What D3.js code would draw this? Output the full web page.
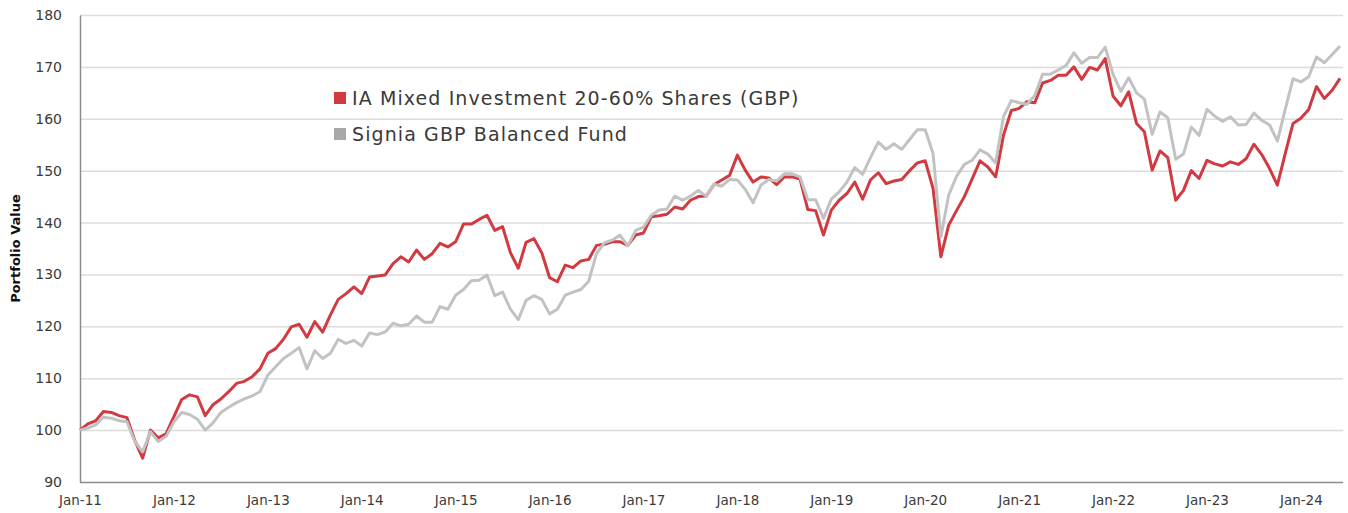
<!DOCTYPE html>
<html>
<head>
<meta charset="utf-8">
<script src="https://cdn.jsdelivr.net/npm/d3@7"></script>
<style>
  body { margin: 0; background: #fff; }
  svg text { font-family: "DejaVu Sans", sans-serif; }
</style>
</head>
<body>
<div id="chart"></div>
<script>
// month index 0 = Jan-11, one value per month
const yearLabels = ["Jan-11","Jan-12","Jan-13","Jan-14","Jan-15","Jan-16","Jan-17",
                    "Jan-18","Jan-19","Jan-20","Jan-21","Jan-22","Jan-23","Jan-24"];
const yTicks = [90,100,110,120,130,140,150,160,170,180];

const iaMixed = [
  100,101.2,101.8,103.6,103.4,102.8,102.4,98,94.6,100,98.5,99.3,
  102.6,105.9,106.8,106.4,102.8,104.9,106,107.4,109,109.4,110.3,111.8,
  114.8,115.7,117.5,119.9,120.4,117.9,120.9,118.9,122.2,125.2,126.3,127.6,
  126.3,129.5,129.7,129.9,132.1,133.4,132.4,134.7,132.9,134,136,135.3,
  136.3,139.7,139.7,140.6,141.4,138.5,139.2,134.2,131.2,136.2,136.9,134.2,
  129.4,128.6,131.8,131.3,132.6,132.9,135.6,135.8,136.3,136.3,135.6,137.6,
  138,141.1,141.3,141.6,143,142.6,144.3,145,145.1,147.3,148.2,149.1,
  153,150.1,147.8,148.8,148.6,147.3,148.8,148.8,148.4,142.5,142.3,137.6,
  142.4,144.3,145.6,147.8,144.5,148.2,149.6,147.5,148,148.3,150,151.5,
  151.9,146.6,133.4,139.5,142.3,145,148.4,151.9,150.7,148.8,156.8,161.6,
  162,163.3,163.1,166.9,167.4,168.4,168.4,170,167.6,169.9,169.4,171.6,
  164.4,162.5,165.2,159.1,157.5,150.1,153.8,152.5,144.3,146.2,150,148.5,
  152,151.3,150.9,151.7,151.2,152.3,155.1,153.1,150.4,147.2,153.3,159.1,
  160.1,161.8,166.2,163.9,165.5,167.8
];

const signia = [
  100,100.4,101,102.5,102.3,101.8,101.6,97.8,95.8,99.7,97.8,98.8,
  101.6,103.4,103,102.1,100,101.4,103.4,104.4,105.3,106,106.6,107.4,
  110.6,112.2,113.8,114.8,115.9,111.8,115.3,113.8,114.8,117.5,116.7,117.3,
  116.2,118.7,118.4,118.9,120.6,120.1,120.4,122,120.8,120.8,123.8,123.3,
  126,127.1,128.8,128.9,129.9,125.9,126.6,123.3,121.3,125,125.9,125.2,
  122.4,123.3,126,126.6,127.1,128.7,134,136.1,136.6,137.6,135.5,138.5,
  139.1,141.4,142.4,142.6,145.1,144.3,145.1,146.2,145.1,147.4,147,148.3,
  148.2,146.4,143.8,147.2,148.3,148,149.4,149.4,148.8,144.4,144.4,140.8,
  144.5,145.9,147.8,150.6,149.3,152.5,155.5,154.1,155.2,154.1,156,157.9,
  157.9,153.3,137.2,145.3,148.9,151.2,152,154,153.2,151.5,160.4,163.5,
  163.1,162.8,164.5,168.6,168.6,169.4,170.3,172.7,170.7,171.8,171.8,173.8,
  168.6,165.3,167.9,165,163.8,157,161.3,160.2,152.2,153.2,158.4,156.8,
  161.8,160.5,159.5,160.4,158.8,158.9,161.1,159.7,158.8,155.7,161.8,167.7,
  167.1,168.1,171.9,170.8,172.4,174
];

const seriesNames = ["IA Mixed Investment 20-60% Shares (GBP)", "Signia GBP Balanced Fund"];
const seriesColors = ["#d13a40", "#c2c2c2"];

const width = 1348, height = 513;
const margin = {top: 15, right: 5, bottom: 31, left: 80};

const svg = d3.select("#chart").append("svg")
    .attr("width", width)
    .attr("height", height);

const x = d3.scaleLinear()
    .domain([0, iaMixed.length - 1])
    .range([margin.left, 1340]);

const y = d3.scaleLinear()
    .domain([90, 180])
    .range([height - margin.bottom, margin.top]);

// gridlines
svg.append("g")
    .attr("transform", `translate(${margin.left},0)`)
    .call(d3.axisLeft(y).tickValues(yTicks.slice(1)).tickSize(-(width - margin.right - margin.left)).tickFormat(""))
    .call(g => g.select(".domain").remove())
    .call(g => g.selectAll("line").attr("stroke", "#dcdcdc").attr("stroke-width", 1.5));

// y axis labels
svg.append("g")
    .attr("transform", `translate(${margin.left},0)`)
    .call(d3.axisLeft(y).tickValues(yTicks).tickSize(0).tickPadding(18))
    .call(g => g.select(".domain").attr("stroke", "#8c8c8c").attr("stroke-width", 1.5))
    .call(g => g.selectAll("text").attr("fill", "#3a3a3a").style("font-size", "14px"));

// x axis
svg.append("g")
    .attr("transform", `translate(0,${y(90)})`)
    .call(d3.axisBottom(x).tickValues(d3.range(0, iaMixed.length, 12)).tickFormat(i => yearLabels[i / 12]).tickSize(0).tickPadding(13))
    .call(g => g.select(".domain").attr("stroke", "#8c8c8c").attr("stroke-width", 1.5).attr("d", `M${margin.left},0.5H${width - margin.right}`))
    .call(g => g.selectAll("text").attr("fill", "#3a3a3a").style("font-size", "13.5px"));

svg.append("text")
    .attr("transform", `translate(20,${(margin.top + y(90)) / 2}) rotate(-90)`)
    .attr("text-anchor", "middle")
    .style("font-size", "13px")
    .style("font-weight", "bold")
    .attr("fill", "#111")
    .text("Portfolio Value");

const line = d3.line()
    .x((d, i) => x(i))
    .y(d => y(d));

[iaMixed, signia].forEach((s, k) => {
    svg.append("path")
        .datum(s)
        .attr("fill", "none")
        .attr("stroke", seriesColors[k])
        .attr("stroke-width", 3)
        .attr("stroke-linejoin", "round")
        .attr("d", line);
});

// legend
const legend = svg.append("g").attr("transform", "translate(334,92)");
seriesNames.forEach((name, k) => {
    const row = legend.append("g").attr("transform", `translate(0,${k * 36})`);
    row.append("rect")
        .attr("width", 12).attr("height", 12)
        .attr("fill", k === 0 ? "#d13a40" : "#a8a8a8");
    row.append("text")
        .attr("x", 18).attr("y", 13)
        .attr("fill", "#3a3a3a")
        .style("font-size", "19px")
        .style("letter-spacing", "1.1px")
        .text(name);
});
</script>
</body>
</html>
